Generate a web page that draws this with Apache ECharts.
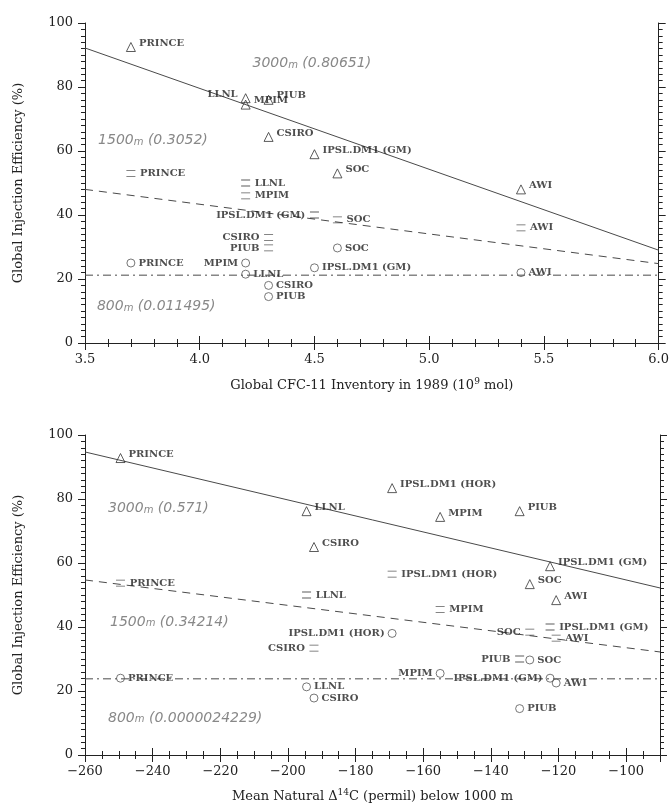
<!DOCTYPE html>
<html>
<head>
<meta charset="utf-8">
<script src="https://cdn.jsdelivr.net/npm/echarts@6/dist/echarts.min.js"></script>
<style>html,body{margin:0;padding:0;background:#fff;}#c{width:672px;height:810px;}</style>
</head>
<body>
<div id="c"></div>
<script>
// ---- top panel data (x = Global CFC-11 inventory, 10^9 mol) ----
const topModels = ['PRINCE','LLNL','MPIM','PIUB','CSIRO','IPSL.DM1 (GM)','SOC','AWI'];
const cfcInventory = [3.7, 4.2, 4.2, 4.3, 4.3, 4.5, 4.6, 5.4];
const top3000 = [92.5, 76.5, 74.5, 76, 64.4, 59, 53, 48];
const top1500 = [53, 50, 46, 29.7, 33, 40, 38.5, 36];
const top800  = [25, 21.5, 25, 14.5, 18, 23.5, 29.7, 22];
const topFit3000 = [[3.5, 92.2], [6.0, 29]];
const topFit1500 = [[3.5, 48], [6.0, 24.8]];
const topFit800  = [[3.5, 21.2], [6.0, 21.2]];
const topNotes = [['3000m (0.80651)', 4.23, 87.5], ['1500m (0.3052)', 3.557, 63.4], ['800m (0.011495)', 3.552, 11.3]];
const topXTicks = [3.5, 6.0, 0.5];

// ---- bottom panel data (x = mean natural Δ14C below 1000 m, permil) ----
const botModels = ['PRINCE','LLNL','CSIRO','IPSL.DM1 (HOR)','MPIM','PIUB','SOC','IPSL.DM1 (GM)','AWI'];
const d14c = [-249.5, -194.5, -192.3, -169.2, -155, -131.5, -128.5, -122.5, -120.7];
const bot3000 = [92.8, 76.2, 65, 83.4, 74.4, 76.2, 53.4, 59, 48.4];
const bot1500 = [53.7, 50, 33.4, 56.5, 45.5, 30, 38.4, 40, 36.5];
const bot800  = [24, 21.3, 17.8, 38, 25.5, 14.5, 29.7, 24, 22.5];
const botFit3000 = [[-260, 94.7], [-90, 52.2]];
const botFit1500 = [[-260, 54.7], [-90, 32.2]];
const botFit800  = [[-260, 23.8], [-90, 23.8]];
const botNotes = [['3000m (0.571)', -253.2, 77.2], ['1500m (0.34214)', -252.6, 41.6], ['800m (0.0000024229)', -253.2, 11.6]];
const botXTicks = [-260, -90, 20];
const yTicks = [0, 100, 20];

// labels drawn on the left of their marker
const leftTop = { d3000: ['LLNL'], d1500: ['IPSL.DM1 (GM)', 'CSIRO', 'PIUB'], d800: ['MPIM'] };
const leftBot = { d3000: [], d1500: ['CSIRO', 'SOC', 'PIUB'], d800: ['IPSL.DM1 (HOR)', 'MPIM', 'IPSL.DM1 (GM)'] };

const SERIF = '"DejaVu Serif", "Liberation Serif", serif';
const INK = '#222';
const LINE = '#4a4a4a';
const eqSymbol = 'path://M0,0L10,0M0,6L10,6';

function pts(models, xs, ys, leftList, kind) {
  return models.map((m, i) => {
    const left = leftList.indexOf(m) >= 0;
    const dy = kind === 'tri' ? -4 : 0;
    return {
      name: m, value: [xs[i], ys[i]],
      label: { position: left ? 'left' : 'right', offset: [0, dy], distance: kind === 'eq' ? 4 : 3 }
    };
  });
}

function markerSeries(gi, models, xs, ys, leftList, kind) {
  const sym = kind === 'tri' ? 'triangle' : (kind === 'eq' ? eqSymbol : 'circle');
  const size = kind === 'tri' ? 9 : (kind === 'eq' ? [9, 6] : 8);
  return {
    type: 'scatter', xAxisIndex: gi * 2, yAxisIndex: gi * 2,
    symbol: sym, symbolSize: size, symbolKeepAspect: false,
    itemStyle: { color: 'rgba(0,0,0,0)', borderColor: kind === 'circ' ? '#555' : '#333', borderWidth: 1 },
    label: { show: true, formatter: p => p.name, fontFamily: SERIF, fontSize: 10, color: INK, fontWeight: 'bold' },
    data: pts(models, xs, ys, leftList, kind), z: 5
  };
}

function fitSeries(gi, data, type) {
  return {
    type: 'line', xAxisIndex: gi * 2, yAxisIndex: gi * 2, data: data, symbol: 'none',
    lineStyle: { color: LINE, width: 1, type: type }, silent: true, z: 2
  };
}

function noteSeries(gi, notes) {
  return {
    type: 'scatter', xAxisIndex: gi * 2, yAxisIndex: gi * 2, symbolSize: 0, silent: true,
    data: notes.map(n => ({ name: n[0], value: [n[1], n[2]] })),
    label: {
      show: true, position: 'right', distance: 0,
      formatter: p => {
        const k = p.name.indexOf('m');
        return '{n|' + p.name.slice(0, k) + '}{m|m}{n|' + p.name.slice(k + 1) + '}';
      },
      rich: {
        n: { fontFamily: '"DejaVu Sans", sans-serif', fontStyle: 'italic', fontSize: 14, color: '#6a6a6a' },
        m: { fontFamily: '"DejaVu Sans", sans-serif', fontStyle: 'italic', fontSize: 10, color: '#6a6a6a', verticalAlign: 'bottom' }
      }
    }
  };
}

const tickLbl = { fontFamily: SERIF, fontSize: 13, color: INK };

function xAxes(gi, ticks, fmt, minor, nameRich, gap, showMax) {
  const base = { gridIndex: gi, type: 'value', min: ticks[0], max: ticks[1], interval: ticks[2],
    axisLine: { show: true, lineStyle: { color: '#222', width: 1 } },
    axisTick: { show: true, length: 7, lineStyle: { color: '#222' } },
    minorTick: { show: true, splitNumber: minor, length: 4, lineStyle: { color: '#222' } },
    splitLine: { show: false }, minorSplitLine: { show: false } };
  return [
    Object.assign({}, base, { position: 'bottom',
      axisLabel: { formatter: fmt, margin: 10, showMaxLabel: showMax, ...tickLbl },
      name: nameRich, nameLocation: 'middle', nameGap: gap,
      nameTextStyle: { rich: { a: { fontFamily: SERIF, fontSize: 13, color: INK }, s: { fontFamily: SERIF, fontSize: 9, color: INK, verticalAlign: 'top', padding: [0, 0, 8, 0] } } } }),
    Object.assign({}, base, { position: 'top', axisLabel: { show: false } })
  ];
}

function yAxes(gi) {
  const base = { gridIndex: gi, type: 'value', min: yTicks[0], max: yTicks[1], interval: yTicks[2],
    axisLine: { show: true, lineStyle: { color: '#222', width: 1 } },
    axisTick: { show: true, length: 7, lineStyle: { color: '#222' } },
    minorTick: { show: true, splitNumber: 10, length: 4, lineStyle: { color: '#222' } },
    splitLine: { show: false }, minorSplitLine: { show: false } };
  return [
    Object.assign({}, base, { position: 'left', axisLabel: { margin: 12, ...tickLbl },
      name: 'Global Injection Efficiency (%)', nameLocation: 'middle', nameGap: 60,
      nameTextStyle: { fontFamily: SERIF, fontSize: 13, color: INK } }),
    Object.assign({}, base, { position: 'right', axisLabel: { show: false } })
  ];
}

const chart = echarts.init(document.getElementById('c'), null, { renderer: 'canvas' });
const option = {
  backgroundColor: '#fff',
  animation: false,
  grid: [
    { left: 85, right: 12, top: 23, height: 320 },
    { left: 85, right: 12, top: 435, height: 320 }
  ],
  xAxis: [
    ...xAxes(0, topXTicks, v => v.toFixed(1), 5, '{a|Global CFC-11 Inventory in 1989 (10}{s|9}{a| mol)}', 34, true),
    ...xAxes(1, botXTicks, v => String(v).replace('-', '\u2212'), 4, '{a|Mean Natural \u0394}{s|14}{a|C (permil) below 1000 m}', 33, false)
  ],
  yAxis: [...yAxes(0), ...yAxes(1)],
  series: [
    fitSeries(0, topFit3000, 'solid'),
    fitSeries(0, topFit1500, [8, 6]),
    fitSeries(0, topFit800, [8, 4, 2, 4]),
    markerSeries(0, topModels, cfcInventory, top3000, leftTop.d3000, 'tri'),
    markerSeries(0, topModels, cfcInventory, top1500, leftTop.d1500, 'eq'),
    markerSeries(0, topModels, cfcInventory, top800, leftTop.d800, 'circ'),
    noteSeries(0, topNotes),
    fitSeries(1, botFit3000, 'solid'),
    fitSeries(1, botFit1500, [8, 6]),
    fitSeries(1, botFit800, [8, 4, 2, 4]),
    markerSeries(1, botModels, d14c, bot3000, leftBot.d3000, 'tri'),
    markerSeries(1, botModels, d14c, bot1500, leftBot.d1500, 'eq'),
    markerSeries(1, botModels, d14c, bot800, leftBot.d800, 'circ'),
    noteSeries(1, botNotes)
  ]
};
chart.setOption(option);
</script>
</body>
</html>
